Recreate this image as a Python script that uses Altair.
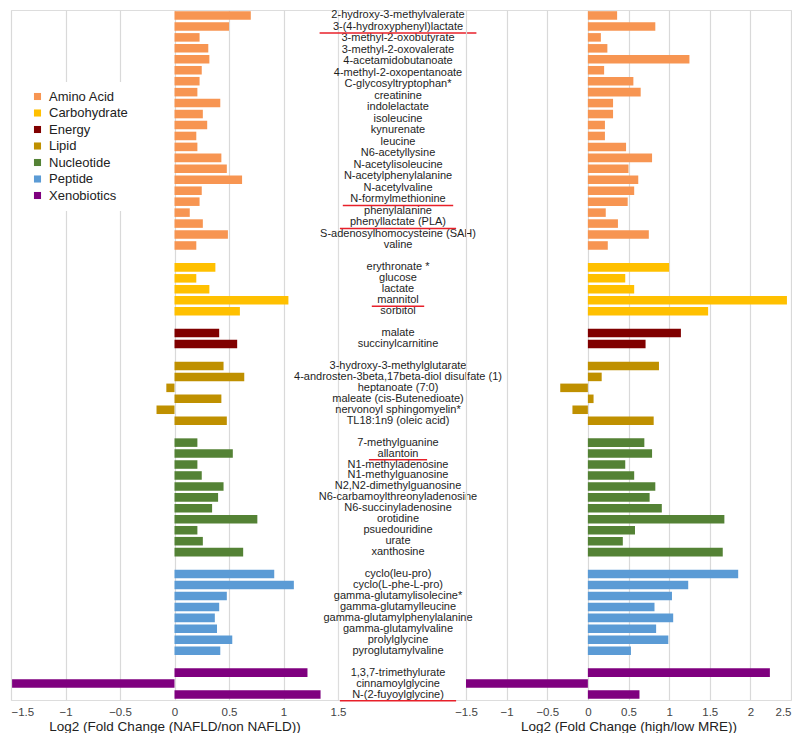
import altair as alt
import pandas as pd

groups = ["Amino Acid", "Carbohydrate", "Energy", "Lipid", "Nucleotide", "Peptide", "Xenobiotics"]
colors = ["#F79552", "#FFC000", "#800000", "#BF9000", "#548235", "#5B9BD5", "#7F007F"]

amino_labels = ["2-hydroxy-3-methylvalerate", "3-(4-hydroxyphenyl)lactate", "3-methyl-2-oxobutyrate",
                "3-methyl-2-oxovalerate", "4-acetamidobutanoate", "4-methyl-2-oxopentanoate",
                "C-glycosyltryptophan*", "creatinine", "indolelactate", "isoleucine", "kynurenate",
                "leucine", "N6-acetyllysine", "N-acetylisoleucine", "N-acetylphenylalanine",
                "N-acetylvaline", "N-formylmethionine", "phenylalanine", "phenyllactate (PLA)",
                "S-adenosylhomocysteine (SAH)", "valine"]
amino_nafld = [0.70, 0.50, 0.23, 0.31, 0.32, 0.25, 0.23, 0.21, 0.42, 0.26, 0.30,
               0.20, 0.21, 0.43, 0.48, 0.62, 0.25, 0.23, 0.14, 0.26, 0.49, 0.20]
amino_mre = [0.36, 0.83, 0.16, 0.24, 1.25, 0.20, 0.56, 0.65, 0.31, 0.31, 0.21,
             0.21, 0.47, 0.79, 0.50, 0.62, 0.57, 0.49, 0.22, 0.37, 0.75, 0.245]

carb_labels = ["erythronate *", "glucose", "lactate", "mannitol", "sorbitol"]
carb_nafld = [0.375, 0.20, 0.32, 1.045, 0.60]
carb_mre = [1.0, 0.46, 0.57, 2.45, 1.48]

energy_labels = ["malate", "succinylcarnitine"]
energy_nafld = [0.41, 0.575]
energy_mre = [1.145, 0.71]

lipid_labels = ["3-hydroxy-3-methylglutarate", "4-androsten-3beta,17beta-diol disulfate (1)",
                "heptanoate (7:0)", "maleate (cis-Butenedioate)", "nervonoyl sphingomyelin*",
                "TL18:1n9 (oleic acid)"]
lipid_nafld = [0.45, 0.64, -0.075, 0.43, -0.165, 0.48]
lipid_mre = [0.875, 0.17, -0.34, 0.07, -0.19, 0.81]

nuc_labels = ["7-methylguanine", "allantoin", "N1-methyladenosine", "N1-methylguanosine",
              "N2,N2-dimethylguanosine", "N6-carbamoylthreonyladenosine", "N6-succinyladenosine",
              "orotidine", "psuedouridine", "urate", "xanthosine"]
nuc_nafld = [0.21, 0.535, 0.21, 0.25, 0.45, 0.40, 0.345, 0.76, 0.21, 0.26, 0.63]
nuc_mre = [0.695, 0.79, 0.46, 0.57, 0.83, 0.76, 0.91, 1.68, 0.58, 0.43, 1.66]

pep_labels = ["cyclo(leu-pro)", "cyclo(L-phe-L-pro)", "gamma-glutamylisolecine*",
              "gamma-glutamylleucine", "gamma-glutamylphenylalanine", "gamma-glutamylvaline",
              "prolylglycine", "pyroglutamylvaline"]
pep_nafld = [0.915, 1.095, 0.48, 0.41, 0.37, 0.39, 0.53, 0.42]
pep_mre = [1.85, 1.235, 1.035, 0.82, 1.05, 0.84, 0.99, 0.53]

xeno_labels = ["1,3,7-trimethylurate", "cinnamoylglycine", "N-(2-fuyoylglycine)"]
xeno_nafld = [1.22, -1.49, 1.34]
xeno_mre = [2.24, -1.50, 0.635]

underlined = ["3-(4-hydroxyphenyl)lactate", "N-formylmethionine", "phenyllactate (PLA)",
              "mannitol", "allantoin", "N-(2-fuyoylglycine)"]

left_ticks = [-1.5, -1, -0.5, 0, 0.5, 1, 1.5]
right_ticks = [-1.5, -1, -0.5, 0, 0.5, 1, 1.5, 2, 2.5]

group_data = [
    (amino_labels, amino_nafld, amino_mre),
    (carb_labels, carb_nafld, carb_mre),
    (energy_labels, energy_nafld, energy_mre),
    (lipid_labels, lipid_nafld, lipid_mre),
    (nuc_labels, nuc_nafld, nuc_mre),
    (pep_labels, pep_nafld, pep_mre),
    (xeno_labels, xeno_nafld, xeno_mre),
]

bar_rows, label_rows = [], []
r = 0
for g, (labs, nv, mv) in zip(groups, group_data):
    nb = len(nv)
    for i in range(nb):
        bar_rows.append({"group": g, "row": r + i, "nafld": nv[i], "mre": mv[i]})
    nl = len(labs)
    for i, lab in enumerate(labs):
        pos = r + (i * (nb - 1) / (nl - 1) if nl > 1 else 0)
        label_rows.append({"label": lab, "group": g, "tpos": pos})
    r += nb + 1
n_rows = r - 1

bars_df = pd.DataFrame(bar_rows)
labels_df = pd.DataFrame(label_rows)

FONT = "Liberation Sans"
H = 690
W_L, W_M, W_R = 327, 128, 325

yscale = alt.Scale(domain=[-0.5, n_rows - 0.5], reverse=True, nice=False, zero=False)
cscale = alt.Scale(domain=groups, range=colors)


def xaxis(title, vals, cond):
    return alt.Axis(values=vals, format="~g", title=title, grid=True, gridColor="#d9d9d9",
                    gridWidth=1.2, ticks=False, domain=False, labelFontSize=11.5,
                    labelColor="#444444", labelPadding=6, labelFont=FONT,
                    labelAlign=cond, titleFont=FONT, titleFontSize=13.5,
                    titleFontWeight="normal", titleColor="#222222", titlePadding=2)


base_bars = alt.Chart(bars_df).transform_calculate(
    y1="datum.row - 0.39", y2="datum.row + 0.39"
)

left = base_bars.mark_bar().encode(
    x=alt.X("nafld:Q", scale=alt.Scale(domain=[-1.5, 1.5], nice=False, zero=False),
            axis=xaxis("Log2 (Fold Change (NAFLD/non NAFLD))", left_ticks,
                       {"condition": {"test": "datum.value == -1.5", "value": "left"},
                        "value": "center"})),
    x2=alt.datum(0),
    y=alt.Y("y1:Q", scale=yscale, axis=None),
    y2="y2:Q",
    color=alt.Color("group:N", scale=cscale,
                    legend=alt.Legend(orient="none", legendX=12, legendY=72, title=None,
                                      fillColor="white", padding=8, symbolType="square",
                                      symbolSize=50, symbolStrokeWidth=0,
                                      labelFontSize=13, labelFont=FONT,
                                      labelColor="#222222", rowPadding=2.5,
                                      labelOffset=5)),
).properties(width=W_L, height=H)

right = base_bars.mark_bar().encode(
    x=alt.X("mre:Q", scale=alt.Scale(domain=[-1.5, 2.5], nice=False, zero=False),
            axis=xaxis("Log2 (Fold Change (high/low MRE))", right_ticks,
                       {"condition": {"test": "datum.value == 2.5", "value": "right"},
                        "value": "center"})),
    x2=alt.datum(0),
    y=alt.Y("y1:Q", scale=yscale, axis=None),
    y2="y2:Q",
    color=alt.Color("group:N", scale=cscale, legend=None),
).properties(width=W_R, height=H)

texts = alt.Chart(labels_df).mark_text(
    align="center", baseline="middle", fontSize=11, font=FONT, color="#1e1e1e"
).encode(
    x=alt.value(60),
    y=alt.Y("tpos:Q", scale=yscale, axis=None),
    text="label:N",
)

lines = alt.Chart(labels_df).transform_filter(
    alt.FieldOneOfPredicate(field="label", oneOf=underlined)
).transform_calculate(
    ux1="60 - length(datum.label) * 2.9 - 3",
    ux2="60 + length(datum.label) * 2.9 + 3",
    uy="datum.tpos + 0.56",
).mark_rule(color="#E8202A", strokeWidth=1.5).encode(
    x=alt.X("ux1:Q", scale=None, axis=None),
    x2="ux2:Q",
    y=alt.Y("uy:Q", scale=yscale, axis=None),
)

middle = alt.layer(texts, lines).properties(width=W_M, height=H)

chart = alt.hconcat(left, middle, right, spacing=0, bounds="flush").resolve_scale(
    color="independent"
).properties(
    padding={"left": 2, "top": 0, "right": 0, "bottom": 0}
).configure_view(stroke=None).configure(font=FONT)

chart.save("out.html", embed_options={"renderer": "svg", "actions": False})
